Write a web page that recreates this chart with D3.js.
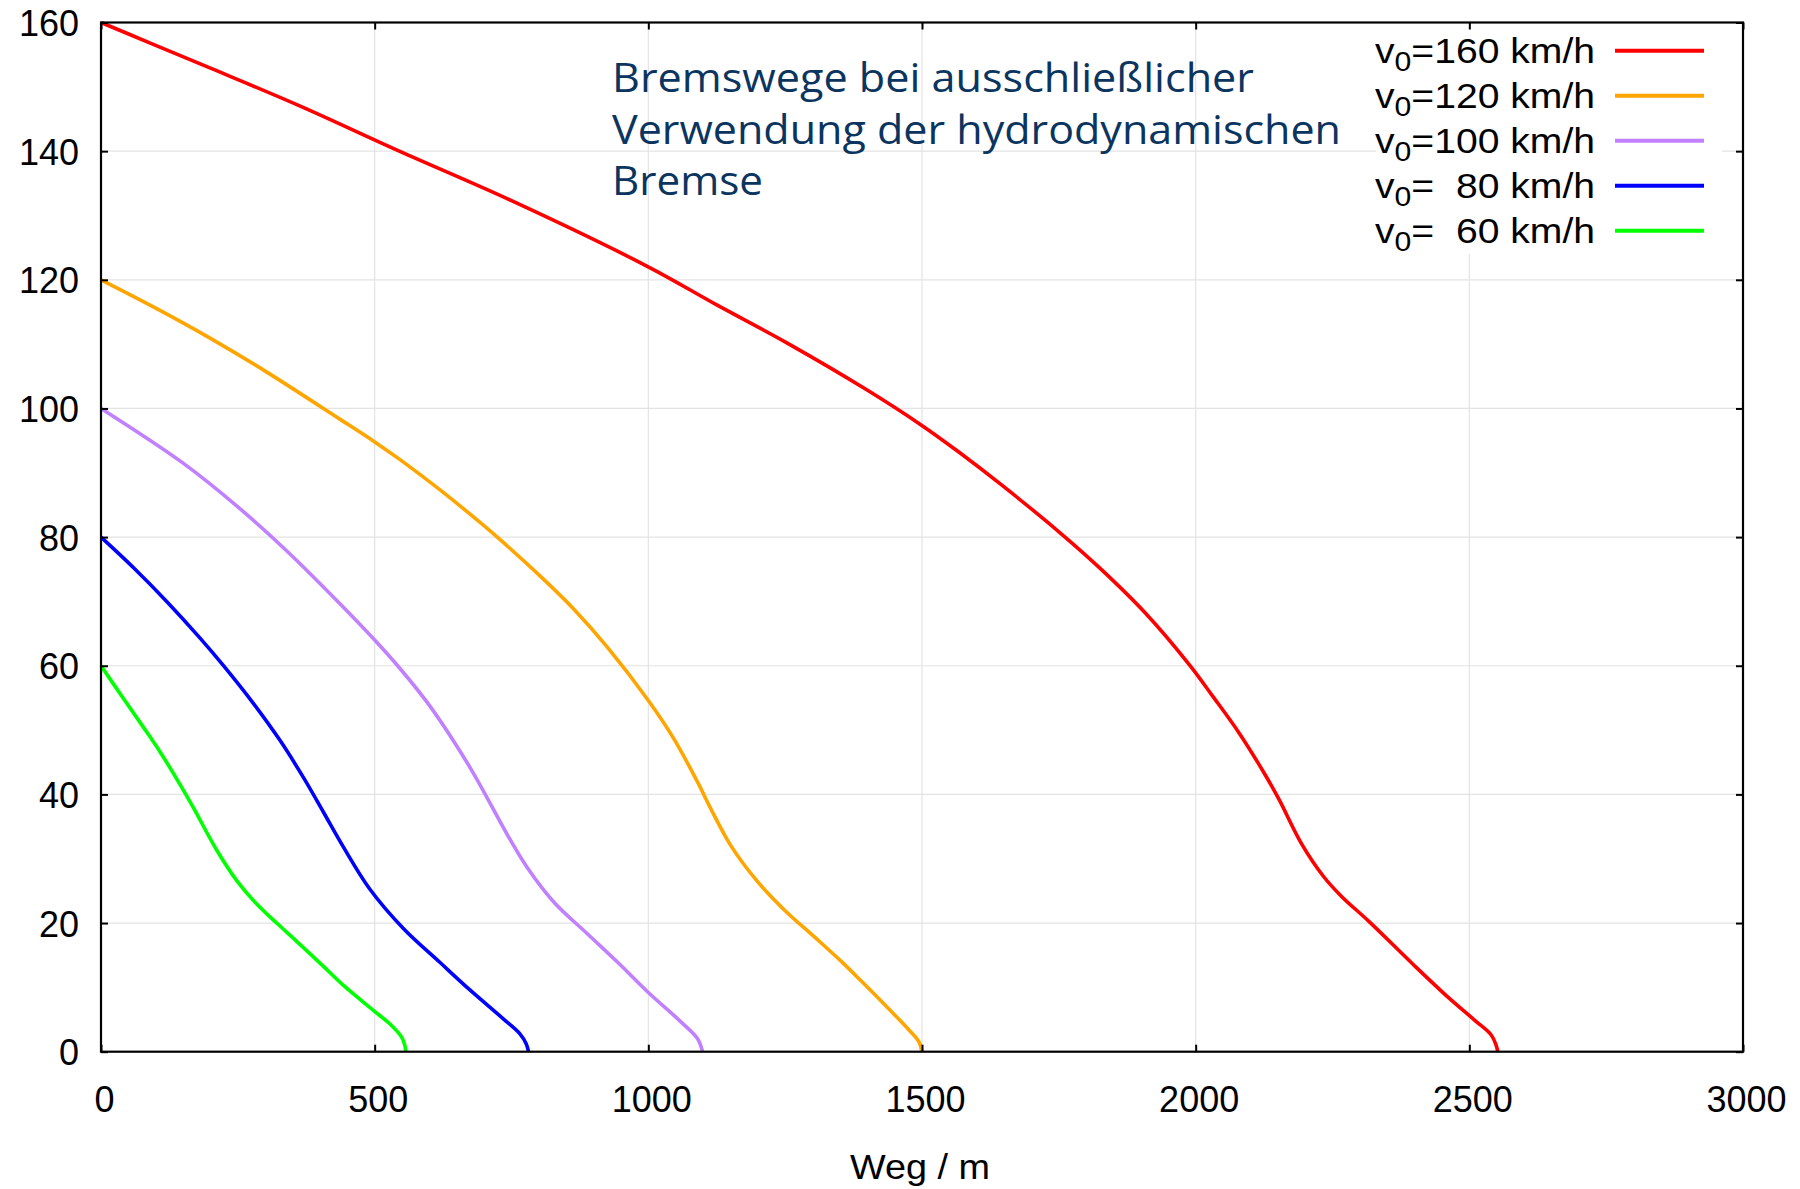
<!DOCTYPE html>
<html>
<head>
<meta charset="utf-8">
<script src="https://cdn.jsdelivr.net/npm/d3@7"></script>
<style>
  html, body { margin: 0; padding: 0; background: #fff; }
  svg { display: block; }
  text { white-space: pre; }
</style>
</head>
<body>
<svg id="chart" width="1800" height="1189"></svg>
<script>
// ---- data ----
const xTicks = [0, 500, 1000, 1500, 2000, 2500, 3000];
const yTicks = [0, 20, 40, 60, 80, 100, 120, 140, 160];
const xLabel = "Weg / m";
const titleLines = ["Bremswege bei ausschließlicher", "Verwendung der hydrodynamischen", "Bremse"];
const speeds = ["160", "120", "100", "  80", "  60"];
const colors = ["#ff0000", "#ffa500", "#c080ff", "#0000ff", "#00ff00"];

const curve160 = [[0,160],[90,156.8],[200,152.9],[364,147],[545,140],[750,132.3],[998,122.1],[1125,116.1],[1253,110.2],[1399,102.9],[1499,97.4],[1566,93.3],[1650,87.8],[1756,80.4],[1826,75.1],[1908,68.2],[1989,60.1],[2030,55.4],[2079,49.6],[2128,42.9],[2153,39.1],[2193,32.4],[2234,27.2],[2267,24.1],[2316,20.3],[2397,13.6],[2462,8.4],[2511,4.8],[2540,2.6],[2549,1],[2552,0]];
const curve120 = [[0,120],[100,115.6],[200,110.9],[300,105.8],[437,98.3],[500,94.8],[547,92.0],[620,87.3],[681,83.1],[724,80.0],[803,73.9],[864,68.8],[925,62.9],[1000,54.6],[1047,48.6],[1090,41.9],[1114,37.8],[1151,32.0],[1200,26.4],[1249,22.0],[1304,17.8],[1353,14.0],[1390,10.9],[1440,6.6],[1475,3.5],[1494,1.6],[1500,0]];
const curve100 = [[0,100],[150,91.5],[250,84.7],[340,77.8],[437,69.6],[500,64.0],[547,59.5],[596,54.3],[645,48.2],[681,43.2],[706,39.4],[742,33.8],[779,28.6],[828,23.2],[889,18.3],[944,13.9],[1000,9.2],[1060,4.6],[1090,2.0],[1099,0]];
const curve80 = [[0,80],[60,75.2],[120,70.0],[181,64.3],[223,60.1],[278,54.2],[327,48.4],[370,42.6],[406,37.3],[443,31.8],[491,25.3],[552,19.2],[619,13.9],[674,9.6],[735,5.1],[765,2.8],[777,1.2],[781,0]];
const curve60 = [[0,60],[41,54.9],[77,50.5],[108,46.6],[144,41.6],[169,37.9],[211,31.4],[248,26.6],[284,23.0],[321,20.0],[357,17.2],[406,13.3],[443,10.3],[498,6.4],[528,4.3],[549,2.3],[555,1],[557,0]];
const curves = [curve160, curve120, curve100, curve80, curve60];

// ---- drawing ----
const svg = d3.select("#chart");
const L = 101, R = 1743, T = 22.5, B = 1051.7;
const x = d3.scaleLinear().domain([0, 3000]).range([L, R]);
const y = d3.scaleLinear().domain([0, 160]).range([B, T]);
const tickFont = "'Liberation Sans', Arial, sans-serif";

svg.append("rect").attr("width", 1800).attr("height", 1189).attr("fill", "#fff");

// grid
const grid = svg.append("g").attr("stroke", "#e3e3e3").attr("stroke-width", 1.2);
grid.selectAll("line.gx").data(xTicks.slice(1, -1)).join("line")
  .attr("x1", d => x(d)).attr("x2", d => x(d)).attr("y1", T).attr("y2", B);
grid.selectAll("line.gy").data(yTicks.slice(1, -1)).join("line")
  .attr("x1", L).attr("x2", R).attr("y1", d => y(d)).attr("y2", d => y(d));

// legend background
svg.append("rect").attr("x", 1376).attr("y", T + 1).attr("width", 1722 - 1376).attr("height", 253 - T)
  .attr("fill", "#fff");

// title
const title = svg.append("g").attr("font-family", "'Open Sans', sans-serif").attr("font-size", 41).attr("fill", "#0b355f");
const titleBase = [92, 143.5, 195];
const titleLen = [642, 729, 151];
titleLines.forEach((t, i) => {
  title.append("text").attr("x", 612).attr("y", titleBase[i]).text(t)
    .attr("textLength", titleLen[i]).attr("lengthAdjust", "spacingAndGlyphs");
});

// curves
const line = d3.line().x(d => x(d[0])).y(d => y(d[1])).curve(d3.curveCatmullRom.alpha(0.5));
curves.forEach((c, i) => {
  svg.append("path").datum(c).attr("d", line).attr("fill", "none")
    .attr("stroke", colors[i]).attr("stroke-width", 3.6).attr("stroke-linejoin", "round");
});

// axes (inward ticks on all four sides)
const fmt = d3.format("d");
const gB = svg.append("g").attr("transform", `translate(0,${B})`)
  .call(d3.axisBottom(x).tickValues(xTicks).tickFormat(fmt).tickSize(-7).tickPadding(34.5));
const gL = svg.append("g").attr("transform", `translate(${L},0)`)
  .call(d3.axisLeft(y).tickValues(yTicks).tickFormat(fmt).tickSize(-7).tickPadding(22));
const gT = svg.append("g").attr("transform", `translate(0,${T})`)
  .call(d3.axisTop(x).tickValues(xTicks).tickSize(-7).tickFormat(""));
const gR = svg.append("g").attr("transform", `translate(${R},0)`)
  .call(d3.axisRight(y).tickValues(yTicks).tickSize(-7).tickFormat(""));
[gB, gL, gT, gR].forEach(g => {
  g.select(".domain").remove();
  g.selectAll(".tick line").attr("stroke", "#000").attr("stroke-width", 2);
  g.selectAll(".tick text").attr("font-family", tickFont).attr("font-size", 36).attr("fill", "#000");
});
gB.selectAll(".tick text").attr("dx", 3);
gL.selectAll(".tick text").attr("dy", "0.36em");

// frame
svg.append("rect").attr("x", L).attr("y", T).attr("width", R - L).attr("height", B - T)
  .attr("fill", "none").attr("stroke", "#000").attr("stroke-width", 2.2);

// x-axis title
svg.append("text").attr("x", 920).attr("y", 1179).attr("text-anchor", "middle")
  .attr("font-family", tickFont).attr("font-size", 35).attr("fill", "#000")
  .attr("textLength", 140).attr("lengthAdjust", "spacingAndGlyphs").text(xLabel);

// legend
const legY = [50.7, 95.7, 140.7, 185.7, 230.7];
const leg = svg.append("g").attr("font-family", tickFont).attr("font-size", 35).attr("fill", "#000");
speeds.forEach((s, i) => {
  const t = leg.append("text").attr("x", 1375).attr("y", legY[i] + 12.6)
    .attr("textLength", 220).attr("lengthAdjust", "spacingAndGlyphs");
  t.append("tspan").text("v");
  t.append("tspan").attr("font-size", 27).attr("dy", 7.5).text("0");
  t.append("tspan").attr("dy", -7.5).text("=" + s + " km/h");
  leg.append("line").attr("x1", 1615).attr("x2", 1704).attr("y1", legY[i]).attr("y2", legY[i])
    .attr("stroke", colors[i]).attr("stroke-width", 4);
});
</script>
</body>
</html>
